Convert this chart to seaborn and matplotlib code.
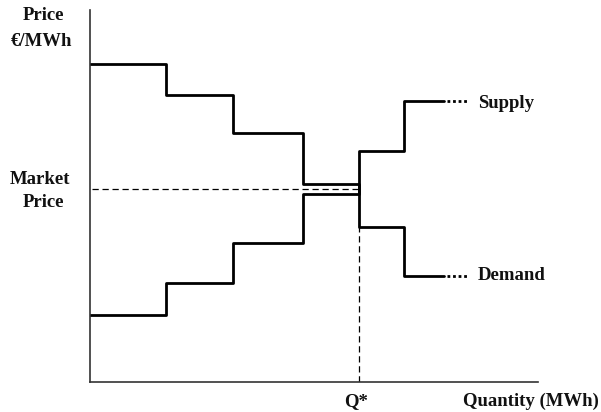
import matplotlib
matplotlib.use("Agg")
import matplotlib.pyplot as plt
import seaborn as sns
import pandas as pd

# Step curves (quantity breakpoints, price of each step; last price repeated for steps-post)
demand_q = [0, 17, 32, 47.5, 60, 70, 79]
demand_p = [85.5, 77.2, 67.0, 53.2, 41.7, 28.5, 28.5]
supply_q = [0, 17, 32, 47.5, 60, 70, 79]
supply_p = [18.0, 26.6, 37.4, 50.5, 62.1, 75.5, 75.5]
dots_start = 79.7
dots_end = 84.3
market_price = 51.9
q_star = 60

sns.set_theme(style="white")
plt.rcParams['font.family'] = ['Liberation Serif', 'DejaVu Serif']

fig = plt.figure(figsize=(6.01, 4.12), dpi=100)
ax = fig.add_axes([90 / 601, 30 / 412, 448 / 601, 372 / 412])

df_d = pd.DataFrame({'q': demand_q, 'p': demand_p})
df_s = pd.DataFrame({'q': supply_q, 'p': supply_p})

sns.lineplot(data=df_d, x='q', y='p', ax=ax, color='black', linewidth=2.0,
             drawstyle='steps-post', sort=False, estimator=None)
sns.lineplot(data=df_s, x='q', y='p', ax=ax, color='black', linewidth=2.0,
             drawstyle='steps-post', sort=False, estimator=None)

# dotted continuations
ax.plot([dots_start, dots_end], [demand_p[-1]] * 2, color='black',
        linewidth=2.0, linestyle=(0, (1, 1)), solid_capstyle='butt')
ax.plot([dots_start, dots_end], [supply_p[-1]] * 2, color='black',
        linewidth=2.0, linestyle=(0, (1, 1)), solid_capstyle='butt')

# market price and Q* guides
ax.plot([0.5, q_star], [market_price, market_price], color='black',
        linewidth=0.9, linestyle=(0, (5, 3)))
ax.plot([q_star, q_star], [0, demand_p[4]], color='black',
        linewidth=0.9, linestyle=(0, (5, 3)))

ax.set_xlim(0, 100)
ax.set_ylim(0, 100)
ax.set_xticks([])
ax.set_yticks([])
ax.set_xlabel('')
ax.set_ylabel('')
for side in ['top', 'right']:
    ax.spines[side].set_visible(False)
for side in ['left', 'bottom']:
    ax.spines[side].set_color('#333333')
    ax.spines[side].set_linewidth(1.2)

kw = dict(fontsize=13.5, fontweight='bold', color='#111111', clip_on=False)
ax.text(-10.3, 98.4, 'Price', ha='center', va='center', **kw)
ax.text(-10.9, 91.4, '€/MWh', ha='center', va='center', **kw)
ax.text(-11.2, 54.4, 'Market', ha='center', va='center', **kw)
ax.text(-10.3, 48.2, 'Price', ha='center', va='center', **kw)
ax.text(59.3, -5.2, 'Q*', ha='center', va='center', **kw)
ax.text(113.5, -5.2, 'Quantity (MWh)', ha='right', va='center', **kw)
ax.text(86.6, 74.9, 'Supply', ha='left', va='center', **kw)
ax.text(86.6, 28.6, 'Demand', ha='left', va='center', **kw)

fig.savefig('out.png', dpi=100)
